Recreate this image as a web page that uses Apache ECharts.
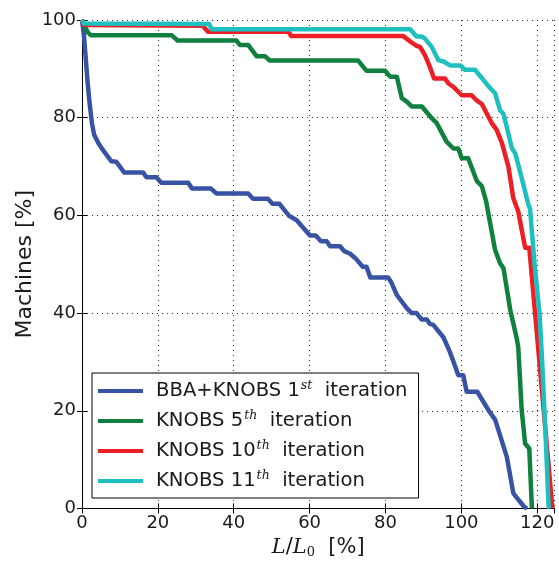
<!DOCTYPE html>
<html>
<head>
<meta charset="utf-8">
<script src="https://cdn.jsdelivr.net/npm/echarts@6/dist/echarts.min.js"></script>
<style>
  html, body { margin: 0; padding: 0; background: #fff; }
  #chart { width: 559px; height: 562px; }
</style>
</head>
<body>
<div id="chart"></div>
<script>
// Share of machines (%) still reaching a given relative luminosity L/L0 (%)
const seriesNames = [
  'BBA+KNOBS 1st iteration',
  'KNOBS 5th iteration',
  'KNOBS 10th iteration',
  'KNOBS 11th iteration'
];
const seriesColors = ['#3953a4', '#10803f', '#ed1f26', '#1ebfbf'];

// [L/L0 %, machines %]
const bbaKnobs1 = [
  [0,100],[0.5,97],[1,92],[1.5,87],[2,83],[2.6,79],[3.2,76.5],[4.3,74.8],[5.5,73.4],
  [7.7,71.1],[9,71],[11.1,68.8],[16.1,68.8],[17,67.8],[19.6,67.8],[20.9,66.7],[28,66.7],
  [29,65.5],[34,65.5],[35.4,64.5],[43.8,64.5],[45.1,63.4],[49,63.4],[50.2,62.4],[52,62.4],
  [54.6,59.9],[56.6,59],[60.1,55.9],[61.6,55.9],[63,54.7],[64.5,54.7],[65.4,53.7],[68,53.7],
  [69.1,52.7],[70.6,52.2],[72,51.3],[74,49.5],[75,49.5],[76,47.3],[80.7,47.3],[81.6,46.2],
  [83,43.7],[85.6,41],[86.9,40],[88.2,40],[89.5,38.7],[90.9,38.7],[91.7,37.8],[92.6,37.6],
  [95.3,35],[97,32],[97.9,30.1],[99.2,27.3],[100.5,27.3],[101.4,23.9],[104.2,23.9],
  [107.4,19.8],[108.9,18.2],[109.8,16],[112,10.5],[113.7,3.1],[116.6,0.3],[117.3,0]
];
const knobs5 = [
  [0,100],[0.6,99],[1.5,97.5],[2.3,96.9],[23.6,96.9],[25.2,95.8],[40.7,95.8],[41.6,94.9],
  [43.8,94.9],[46,92.6],[48.2,92.6],[49.5,91.7],[72.8,91.7],[75,89.6],[79.9,89.6],[81.2,88.4],
  [83,88.4],[84.3,84],[85.6,83.3],[86.9,82.3],[89.6,82.3],[92.2,79.9],[93.5,78.9],[96.1,75.1],
  [97.9,73.7],[99.2,73.7],[100.1,71.7],[101.8,71.7],[104.1,67],[105.4,66],[106.5,63],
  [108.9,52.9],[110.2,50.2],[111.1,49.2],[112.9,40.6],[114.6,34.8],[115,33],[115.9,20.2],
  [116.8,13.3],[117.9,12.3],[118.6,0]
];
const knobs10 = [
  [0,100],[0.5,99],[1,98.8],[31.8,98.8],[33.2,97.6],[54.4,97.6],[55.2,96.7],[84.7,96.7],
  [86.5,95.6],[88.2,94.7],[89.1,94.5],[90.4,92.8],[91.7,90.4],[92.8,88],[95.7,88],[96.6,87],
  [97.9,86.3],[100.1,84.6],[102.7,84.6],[104.1,83.5],[105.4,82.8],[107,80.4],[108,78.9],
  [109.3,77.5],[110.7,74.8],[112.4,70],[113.7,63.5],[115,60.8],[116.8,53.4],[117.9,53.4],
  [124,0]
];
const knobs11 = [
  [0,100],[0.5,99.3],[33.5,99.2],[34.2,98.1],[86.5,98.1],[88.2,96.6],[89.6,96.6],[90.4,96.2],
  [92.2,94.5],[93.9,91.8],[95.3,91.5],[97,90.7],[99.7,90.7],[101,89.8],[103.6,89.8],
  [104.9,88.6],[107.4,86.2],[108.9,85],[110.2,81.5],[111.1,80.8],[112,78],[113.3,73.8],
  [114.2,72.7],[115.5,68.9],[117.7,62.1],[118.1,61.4],[119.3,50],[120.6,40],[121.3,30],
  [122.2,15],[123,0.5],[123.2,0]
];
const seriesData = [bbaKnobs1, knobs5, knobs10, knobs11];

// legend label pieces: main text, superscript, trailing text
const legendParts = [
  ['BBA+KNOBS 1', 'st', ' iteration'],
  ['KNOBS 5', 'th', ' iteration'],
  ['KNOBS 10', 'th', ' iteration'],
  ['KNOBS 11', 'th', ' iteration']
];

const xMin = 0, xMax = 124.5, xStep = 20;
const yMin = 0, yMax = 100, yStep = 20;

const textColor = '#1a1a1a';
const sans = 'DejaVu Sans';

const chart = echarts.init(document.getElementById('chart'), null, { renderer: 'canvas' });

const baseAxis = {
  axisLine: { show: true, lineStyle: { color: '#000', width: 1 } },
  axisTick: { show: true, inside: true, length: 5, lineStyle: { color: '#000', width: 1 } },
  splitLine: { show: false }
};
const dottedGrid = { show: true, lineStyle: { color: '#333', width: 1.1, type: [1.1, 3.9] } };

const option = {
  animation: false,
  backgroundColor: '#fff',
  grid: { left: 82, right: 4.7, top: 20, bottom: 53.5, containLabel: false, outerBoundsMode: 'none' },
  xAxis: [
    Object.assign({}, baseAxis, {
      type: 'value', position: 'bottom', min: xMin, max: xMax, interval: xStep,
      axisLabel: { color: textColor, fontFamily: sans, fontSize: 18, margin: 6, showMaxLabel: false },
      splitLine: dottedGrid,
      name: '{i|L}{n|/}{i|L}{sub|0}{n|  [%]}',
      nameLocation: 'middle', nameGap: 28, nameMoveOverlap: false,
      nameTextStyle: {
        rich: {
          i: { fontFamily: 'DejaVu Serif', fontStyle: 'italic', fontSize: 21, color: textColor },
          n: { fontFamily: sans, fontSize: 21, color: textColor },
          sub: { fontFamily: 'DejaVu Serif', fontSize: 13, color: textColor, padding: [10, 0, 0, 0] }
        }
      }
    }),
    Object.assign({}, baseAxis, {
      type: 'value', position: 'top', min: xMin, max: xMax, interval: xStep,
      axisLabel: { show: false }
    })
  ],
  yAxis: [
    Object.assign({}, baseAxis, {
      type: 'value', position: 'left', min: yMin, max: yMax, interval: yStep,
      axisLabel: { color: textColor, fontFamily: sans, fontSize: 18, margin: 6 },
      splitLine: dottedGrid,
      name: 'Machines [%]', nameLocation: 'middle', nameGap: 46, nameMoveOverlap: false,
      nameTextStyle: { color: textColor, fontFamily: sans, fontSize: 22 }
    }),
    Object.assign({}, baseAxis, {
      type: 'value', position: 'right', min: yMin, max: yMax, interval: yStep,
      axisLabel: { show: false }
    })
  ],
  legend: {
    orient: 'vertical',
    left: 92, top: 373,
    data: seriesNames,
    itemWidth: 45, itemHeight: 4, itemGap: 8,
    padding: [6, 11, 7, 6],
    backgroundColor: '#fff',
    borderColor: '#000', borderWidth: 1, borderRadius: 0,
    icon: 'rect',
    formatter: function (name) {
      const p = legendParts[seriesNames.indexOf(name)];
      return '{n|' + p[0] + '}{s|' + p[1] + '}{n| ' + p[2] + '}';
    },
    textStyle: {
      padding: [0, 0, 0, 8],
      rich: {
        n: { fontFamily: sans, fontSize: 19.6, color: textColor, lineHeight: 24 },
        s: { fontFamily: 'DejaVu Serif', fontStyle: 'italic', fontSize: 12.5, color: textColor,
             verticalAlign: 'top', lineHeight: 24, padding: [0, 0, 8, 1] }
      }
    }
  },
  series: seriesNames.map(function (name, i) {
    return {
      name: name, type: 'line', xAxisIndex: 0, yAxisIndex: 0,
      data: seriesData[i], showSymbol: false, symbol: 'none',
      color: seriesColors[i],
      lineStyle: { color: seriesColors[i], width: 4.5, join: 'round', cap: 'butt' },
      z: 2 + i
    };
  })
};

chart.setOption(option);
</script>
</body>
</html>
